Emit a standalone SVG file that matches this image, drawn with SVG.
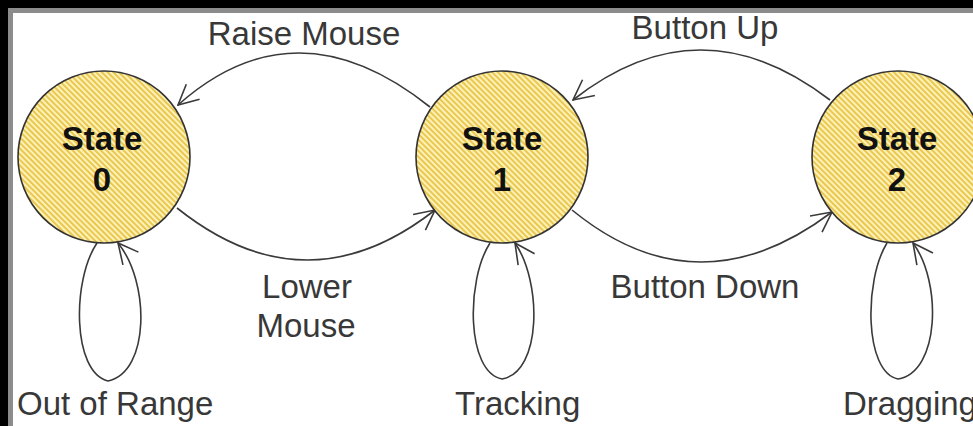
<svg xmlns="http://www.w3.org/2000/svg" width="973" height="426" viewBox="0 0 973 426">
  <defs>
    <style>
      .state { stroke: #333; stroke-width: 1.6; fill: url(#hatch); }
      .stateText { font-family: "Liberation Sans", Arial, sans-serif; font-size: 33px; font-weight: bold; fill: #111; text-anchor: middle; }
      .label { font-family: "Liberation Sans", Arial, sans-serif; font-size: 33px; fill: #383838; }
      .mid { text-anchor: middle; }
      .edge { fill: none; stroke: #3a3a3a; stroke-width: 1.6; marker-end: url(#arrow); }
    </style>
    <!-- diagonal yellow hatching for the state circles -->
    <pattern id="hatch" width="4" height="4" patternUnits="userSpaceOnUse" patternTransform="rotate(-45)">
      <rect width="4" height="4" fill="#fdf2b6"/>
      <rect width="2" height="4" fill="#e9c752"/>
    </pattern>
    <!-- open V arrowhead -->
    <marker id="arrow" markerUnits="userSpaceOnUse" viewBox="0 0 22 22" refX="21" refY="11" markerWidth="22" markerHeight="22" orient="auto">
      <path d="M1,1 L21,11 L1,21" fill="none" stroke="#3a3a3a" stroke-width="1.6"/>
    </marker>
  </defs>

  <!-- frame -->
  <rect width="973" height="426" fill="#000"/>
  <rect x="8" y="8" width="965" height="418" fill="#8c8c8c"/>
  <rect x="13" y="13" width="960" height="413" fill="#fff"/>

  <!-- transitions -->
  <g id="connectors">
    <path class="edge" d="M430,107 Q296,0 178,105"/>
    <path class="edge" d="M830,100 Q700,0 573,100"/>
    <path class="edge" d="M177,208 Q306,311 435,210"/>
    <path class="edge" d="M572,210 Q698,313 832,212"/>
    <path class="edge" d="M97,243 C72,280 72,372 108,381 C150,372 150,282 118,243"/>
    <path class="edge" d="M490,243 C466,280 466,372 502,379 C542,372 542,282 515,243"/>
    <path class="edge" d="M887,243 C864,280 864,372 898,379 C940,372 942,282 913,243"/>
  </g>

  <!-- transition labels -->
  <g id="labels">
    <text class="label mid" x="304" y="45">Raise Mouse</text>
    <text class="label mid" x="705" y="39">Button Up</text>
    <text class="label mid" x="307" y="298">Lower</text>
    <text class="label mid" x="306" y="337">Mouse</text>
    <text class="label mid" x="705" y="298">Button Down</text>
    <text class="label" x="17" y="415">Out of Range</text>
    <text class="label" x="455" y="415">Tracking</text>
    <text class="label" x="843" y="415">Dragging</text>
  </g>

  <!-- states -->
  <g id="state0">
    <circle class="state" cx="104" cy="157" r="86"/>
    <text class="stateText" x="102" y="150">State</text>
    <text class="stateText" x="102" y="191">0</text>
  </g>
  <g id="state1">
    <circle class="state" cx="502" cy="157" r="86"/>
    <text class="stateText" x="502" y="150">State</text>
    <text class="stateText" x="502" y="191">1</text>
  </g>
  <g id="state2">
    <circle class="state" cx="898" cy="157" r="86"/>
    <text class="stateText" x="897" y="150">State</text>
    <text class="stateText" x="897" y="191">2</text>
  </g>
</svg>
